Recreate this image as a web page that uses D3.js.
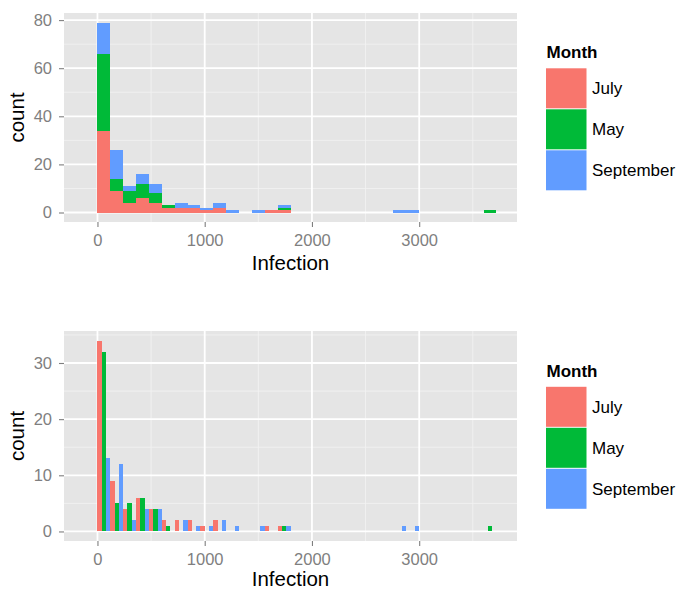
<!DOCTYPE html>
<html>
<head>
<meta charset="utf-8">
<script src="https://cdn.jsdelivr.net/npm/d3@7"></script>
<style>
  body { margin: 0; background: #ffffff; }
  svg text { font-family: "Liberation Sans", Arial, Helvetica, sans-serif; }
</style>
</head>
<body>
<svg id="chart" width="680" height="590"></svg>
<script>
// Histogram counts of Infection, bins of width 120 starting at 0
const months = ["July", "May", "September"];
const monthColors = ["#F8766D", "#00BA38", "#619CFF"];
const binWidth = 120;
const julyCounts      = [34, 9, 4, 6, 4, 2, 2, 2, 1, 2, 0, 0, 0, 1, 1, 0, 0, 0, 0, 0, 0, 0, 0, 0, 0, 0, 0, 0, 0, 0, 0];
const mayCounts       = [32, 5, 5, 6, 4, 1, 0, 0, 0, 0, 0, 0, 0, 0, 1, 0, 0, 0, 0, 0, 0, 0, 0, 0, 0, 0, 0, 0, 0, 0, 1];
const septemberCounts = [13, 12, 2, 4, 4, 0, 2, 1, 1, 2, 1, 0, 1, 0, 1, 0, 0, 0, 0, 0, 0, 0, 0, 1, 1, 0, 0, 0, 0, 0, 0];
const xTickValues = [0, 1000, 2000, 3000];
const xMinorValues = [500, 1500, 2500, 3500];
const stackYTicks = [0, 20, 40, 60, 80];
const stackYMinor = [10, 30, 50, 70];
const dodgeYTicks = [0, 10, 20, 30];
const dodgeYMinor = [5, 15, 25, 35];
const xTitle = "Infection";
const yTitle = "count";
const legendTitle = "Month";

const nBins = julyCounts.length;
const bins = d3.range(nBins).map(i => ({
  x0: i * binWidth,
  x1: (i + 1) * binWidth,
  July: julyCounts[i],
  May: mayCounts[i],
  September: septemberCounts[i]
}));

const svg = d3.select("#chart");
const color = d3.scaleOrdinal().domain(months).range(monthColors);

// x range covers one empty bin on the left, then 5% expansion each side
const xLo = -binWidth, xHi = nBins * binWidth;
const xPad = (xHi - xLo) * 0.05;

function drawPanel(opts) {
  const { left, top, width, height, yMax, yTicks, yMinor, mode, titleGap } = opts;
  const g = svg.append("g");
  const x = d3.scaleLinear().domain([xLo - xPad, xHi + xPad]).range([left, left + width]);
  const y = d3.scaleLinear().domain([-yMax * 0.05, yMax * 1.05]).range([top + height, top]);

  g.append("rect").attr("x", left).attr("y", top).attr("width", width).attr("height", height)
    .attr("fill", "#E5E5E5");

  // minor grid
  g.selectAll(".ymin").data(yMinor.filter(v => v <= yMax * 1.05)).join("line")
    .attr("x1", left).attr("x2", left + width).attr("y1", d => y(d)).attr("y2", d => y(d))
    .attr("stroke", "#F2F2F2").attr("stroke-width", 0.9);
  g.selectAll(".xmin").data(xMinorValues).join("line")
    .attr("y1", top).attr("y2", top + height).attr("x1", d => x(d)).attr("x2", d => x(d))
    .attr("stroke", "#F2F2F2").attr("stroke-width", 0.9);
  // major grid
  g.selectAll(".ymaj").data(yTicks).join("line")
    .attr("x1", left).attr("x2", left + width).attr("y1", d => y(d)).attr("y2", d => y(d))
    .attr("stroke", "#FFFFFF").attr("stroke-width", 1.8);
  g.selectAll(".xmaj").data(xTickValues).join("line")
    .attr("y1", top).attr("y2", top + height).attr("x1", d => x(d)).attr("x2", d => x(d))
    .attr("stroke", "#FFFFFF").attr("stroke-width", 1.8);

  if (mode === "stack") {
    const series = d3.stack().keys(months)(bins);
    g.selectAll(".layer").data(series).join("g")
      .attr("fill", d => color(d.key))
      .selectAll("rect").data(d => d.filter(p => p[1] > p[0])).join("rect")
      .attr("x", d => x(d.data.x0))
      .attr("width", d => x(d.data.x1) - x(d.data.x0))
      .attr("y", d => y(d[1]))
      .attr("height", d => y(d[0]) - y(d[1]))
      .attr("shape-rendering", "crispEdges");
  } else {
    const sub = d3.scaleBand().domain(months).range([0, 1]).padding(0);
    months.forEach(m => {
      g.append("g").attr("fill", color(m))
        .selectAll("rect").data(bins.filter(b => b[m] > 0)).join("rect")
        .attr("x", b => x(b.x0 + sub(m) * binWidth))
        .attr("width", b => x(b.x0 + (sub(m) + sub.bandwidth()) * binWidth) - x(b.x0 + sub(m) * binWidth))
        .attr("y", b => y(b[m]))
        .attr("height", b => y(0) - y(b[m]))
        .attr("shape-rendering", "crispEdges");
    });
  }

  // axes
  const xAxis = d3.axisBottom(x).tickValues(xTickValues).tickSizeInner(5).tickSizeOuter(0).tickPadding(6)
    .tickFormat(d3.format("d"));
  const xg = g.append("g").attr("transform", `translate(0,${top + height})`).call(xAxis);
  const yAxis = d3.axisLeft(y).tickValues(yTicks).tickSizeInner(5).tickSizeOuter(0).tickPadding(5)
    .tickFormat(d3.format("d"));
  const yg = g.append("g").attr("transform", `translate(${left},0)`).call(yAxis);
  [xg, yg].forEach(a => {
    a.select(".domain").remove();
    a.selectAll(".tick line").attr("stroke", "#7F7F7F").attr("stroke-width", 1.1);
    a.selectAll(".tick text").attr("fill", "#7F7F7F").style("font-size", "16.5px")
      .style("font-family", "'Liberation Sans', Arial, sans-serif");
  });
  xg.selectAll(".tick text").attr("dy", "0.71em").attr("y", 12);
  yg.selectAll(".tick text").attr("x", -12);

  g.append("text").attr("x", left + width / 2).attr("y", top + height + titleGap)
    .attr("text-anchor", "middle").attr("fill", "#000").style("font-size", "20.5px").text(xTitle);
  g.append("text").attr("transform", `translate(${24},${top + height / 2}) rotate(-90)`)
    .attr("text-anchor", "middle").attr("fill", "#000").style("font-size", "20.5px").text(yTitle);

  // legend
  const lg = g.append("g").attr("transform", `translate(546,${top + height / 2 - 59.2})`);
  lg.append("text").attr("x", 0.5).attr("y", 0).attr("font-weight", "bold").attr("fill", "#000")
    .style("font-size", "17px").text(legendTitle);
  const keys = lg.selectAll(".key").data(months).join("g")
    .attr("transform", (d, i) => `translate(0,${10 + i * 41})`);
  keys.append("rect").attr("width", 40.5).attr("height", 40).attr("fill", d => color(d));
  keys.append("text").attr("x", 46).attr("y", 20).attr("dy", "0.35em").attr("fill", "#000")
    .style("font-size", "17px").text(d => d);
}

const stackMax = d3.max(bins, b => b.July + b.May + b.September);
const dodgeMax = d3.max(bins, b => Math.max(b.July, b.May, b.September));

drawPanel({ left: 64, top: 13, width: 453, height: 209, yMax: stackMax,
  yTicks: stackYTicks, yMinor: stackYMinor, mode: "stack", titleGap: 48 });
drawPanel({ left: 64, top: 331, width: 453, height: 210, yMax: dodgeMax,
  yTicks: dodgeYTicks, yMinor: dodgeYMinor, mode: "dodge", titleGap: 44.5 });
</script>
</body>
</html>
